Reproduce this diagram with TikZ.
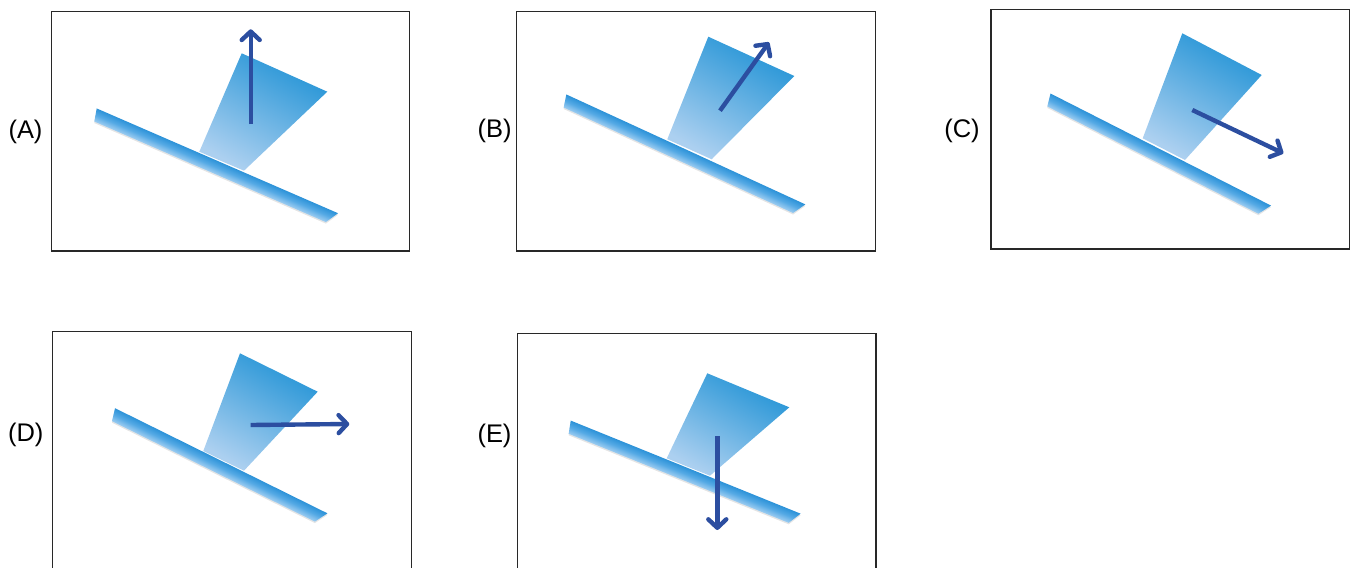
\documentclass[tikz,border=0pt]{standalone}
\usepackage{fontspec}
\setmainfont{Liberation Sans}
\usetikzlibrary{arrows.meta}
\definecolor{wedgetop}{RGB}{36,148,214}
\definecolor{wedgebot}{RGB}{172,208,240}
\definecolor{bartop}{RGB}{44,146,216}
\definecolor{barmid}{RGB}{86,170,229}
\definecolor{barbot}{RGB}{158,205,241}
\definecolor{forceblue}{RGB}{44,78,160}
\definecolor{framegray}{RGB}{40,40,40}
\begin{document}
\begin{tikzpicture}[x=0.02cm, y=-0.02cm,
    >={Straight Barb[length=1.7mm, width=3.6mm, round]},
    panelbox/.style={draw=framegray, line width=0.7pt},
    wedge/.style={top color=wedgetop, bottom color=wedgebot, shading angle=-30},
    barfill/.style={top color=bartop, bottom color=barbot, middle color=barmid},
    barshadow/.style={fill=black!10},
    force/.style={->, draw=forceblue, line width=2.5pt},
    lab/.style={anchor=base, inner sep=0pt, font=\fontsize{14.5}{17}\selectfont}]
    \useasboundingbox (0,0) rectangle (1353,568);

    % Panel A
    \node[lab] (labA) at (25.5,138) {(A)};
    \draw[panelbox] (51.7,11.7) rectangle (409.3,251);
    \shade[wedge] (241.7,53.3) -- (327.3,91.7) -- (244,170.7) -- (199.3,151.7) -- cycle;
    \fill[barshadow, transform canvas={shift={(95.5,116.5)}, rotate=-23.47}]
        (-1.5,-6.5) -- (261.6,-6.5) -- (254,6.5) -- (1.5,6.5) -- cycle;
    \shade[barfill, transform canvas={shift={(95.5,115)}, rotate=-23.47}]
        (-1.5,-6.5) -- (261.6,-6.5) -- (254,6.5) -- (1.5,6.5) -- cycle;
    \coordinate (tailA) at (250.7,124);
    \coordinate (headA) at (250.7,29.3);
    \draw[force] (tailA) -- (headA);

    % Panel B
    \node[lab] (labB) at (494.7,137.5) {(B)};
    \draw[panelbox] (516.7,11.7) rectangle (875.5,251);
    \shade[wedge] (708.3,36.7) -- (794.3,76) -- (711.7,159.3) -- (667.3,139.3) -- cycle;
    \fill[barshadow, transform canvas={shift={(565,102.5)}, rotate=-24.70}]
        (-1.5,-6.5) -- (261.6,-6.5) -- (254,6.5) -- (1.5,6.5) -- cycle;
    \shade[barfill, transform canvas={shift={(565,101)}, rotate=-24.70}]
        (-1.5,-6.5) -- (261.6,-6.5) -- (254,6.5) -- (1.5,6.5) -- cycle;
    \coordinate (tailB) at (720,110.7);
    \coordinate (headB) at (769,42.3);
    \draw[force] (tailB) -- (headB);

    % Panel C
    \node[lab] (labC) at (962,137.7) {(C)};
    \draw[panelbox] (991,9.7) rectangle (1349.5,249);
    \shade[wedge] (1182.3,33.3) -- (1261.7,75) -- (1185,160) -- (1142.7,138.3) -- cycle;
    \fill[barshadow, transform canvas={shift={(1048.9,101.5)}, rotate=-26.94}]
        (-1.5,-6.5) -- (245.9,-6.5) -- (238.3,6.5) -- (1.5,6.5) -- cycle;
    \shade[barfill, transform canvas={shift={(1048.9,100)}, rotate=-26.94}]
        (-1.5,-6.5) -- (245.9,-6.5) -- (238.3,6.5) -- (1.5,6.5) -- cycle;
    \coordinate (tailC) at (1192.3,110);
    \coordinate (headC) at (1283.3,153.3);
    \draw[force] (tailC) -- (headC);

    % Panel D (frame runs off the bottom)
    \node[lab] (labD) at (25.7,441) {(D)};
    \draw[panelbox] (52.7,570) -- (52.7,331.7) -- (411.7,331.7) -- (411.7,570);
    \shade[wedge] (240,353.3) -- (317.7,391.7) -- (244,470.7) -- (203.3,451) -- cycle;
    \fill[barshadow, transform canvas={shift={(113.5,416.2)}, rotate=-26.33}]
        (-1.5,-6.5) -- (235.5,-6.5) -- (227.9,6.5) -- (1.5,6.5) -- cycle;
    \shade[barfill, transform canvas={shift={(113.5,414.7)}, rotate=-26.33}]
        (-1.5,-6.5) -- (235.5,-6.5) -- (227.9,6.5) -- (1.5,6.5) -- cycle;
    \coordinate (tailD) at (250.7,425);
    \coordinate (headD) at (349.3,424);
    \draw[force] (tailD) -- (headD);

    % Panel E
    \node[lab] (labE) at (494.5,442) {(E)};
    \draw[panelbox] (517.3,570) -- (517.3,333.3) -- (876,333.3) -- (876,570);
    \shade[wedge] (707.3,373.3) -- (789.3,407.3) -- (710,475.7) -- (666.7,458.3) -- cycle;
    \fill[barshadow, transform canvas={shift={(569.7,428.7)}, rotate=-22.04}]
        (-1.5,-6.5) -- (246.5,-6.5) -- (238.9,6.5) -- (1.5,6.5) -- cycle;
    \shade[barfill, transform canvas={shift={(569.7,427.2)}, rotate=-22.04}]
        (-1.5,-6.5) -- (246.5,-6.5) -- (238.9,6.5) -- (1.5,6.5) -- cycle;
    \coordinate (tailE) at (717.3,436);
    \coordinate (headE) at (717.3,530);
    \draw[force] (tailE) -- (headE);
\end{tikzpicture}
\end{document}
